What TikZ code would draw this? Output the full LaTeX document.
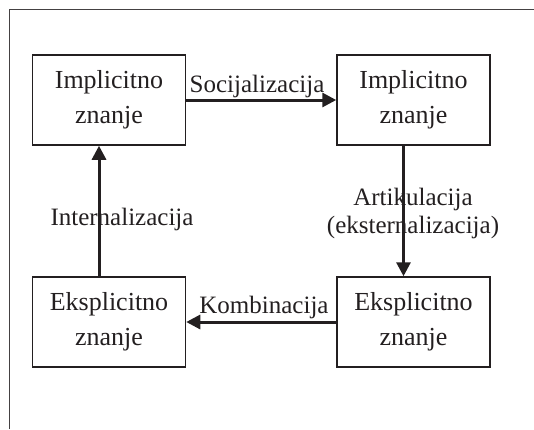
\documentclass[tikz,border=0pt]{standalone}
\usepackage{fontspec}
\setmainfont{Liberation Serif}
\usetikzlibrary{arrows.meta}
\definecolor{ink}{HTML}{231F20}
\tikzstyle{every node}=[text=ink,font=\fontsize{12.5}{17.5}\selectfont]
\tikzstyle{box}=[draw=ink,line width=0.75pt,minimum width=76.5pt,minimum height=45pt,align=center,inner sep=0pt,font=\fontsize{13}{17.5}\selectfont]
\tikzstyle{flow}=[draw=ink,line width=1.5pt,-{Triangle[length=7pt,width=7pt]}]
\tikzstyle{lbl}=[inner sep=0pt]

\begin{document}
\begin{tikzpicture}[x=0.5pt,y=-0.5pt]
  \useasboundingbox (0,0) rectangle (534,429);
  \draw[ink!85,line width=0.5pt] (9.5,429) -- (9.5,9.5) -- (534,9.5);
  % the four boxes
  \node[box] (il) at (109,100) {Implicitno\\znanje};
  \node[box] (ir) at (413.5,100) {Implicitno\\znanje};
  \node[box] (el) at (109,322) {Eksplicitno\\znanje};
  \node[box] (er) at (413.5,322) {Eksplicitno\\znanje};
  % arrows
  \draw[flow] (il.east) -- (ir.west);
  \draw[flow] ([xshift=-5pt]ir.south) -- ([xshift=-5pt]er.north);
  \draw[flow] (er.west) -- (el.east);
  \draw[flow] ([xshift=-5pt]el.north) -- ([xshift=-5pt]il.south);
  % labels
  \node[lbl,anchor=base] (soc) at (257,92) {Socijalizacija};
  \node[lbl,anchor=base] (int) at (122,225) {Internalizacija};
  \node[lbl,anchor=base] (kom) at (264,313) {Kombinacija};
  \node[lbl,align=center,font=\fontsize{12.5}{14}\selectfont] (art) at (413,213) {Artikulacija\\(eksternalizacija)};
\end{tikzpicture}
\end{document}
